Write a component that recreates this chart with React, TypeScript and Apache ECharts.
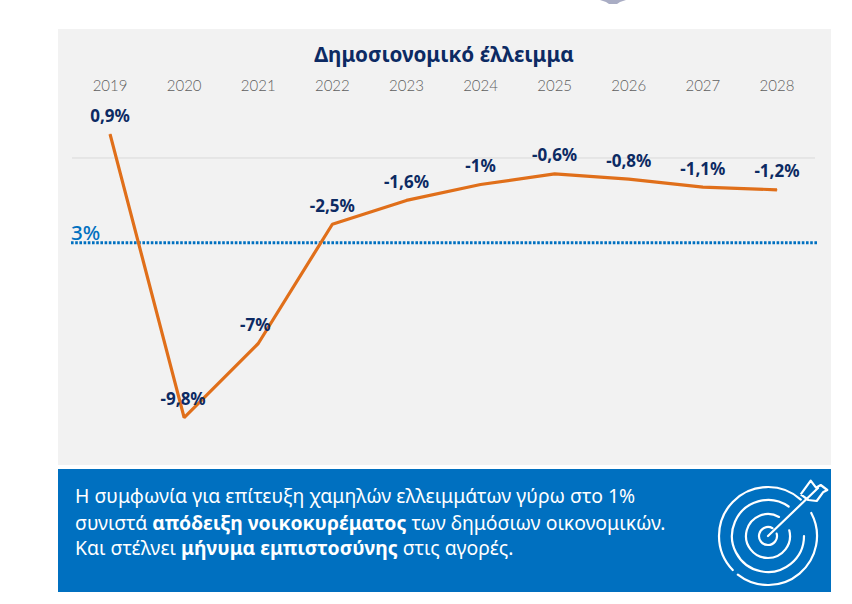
import React, { useEffect, useRef } from "react";
import * as echarts from "echarts";

const years = ["2019", "2020", "2021", "2022", "2023", "2024", "2025", "2026", "2027", "2028"];
const deficit = [0.9, -9.8, -7, -2.5, -1.6, -1, -0.6, -0.8, -1.1, -1.2];
const valueLabels = ["0,9%", "-9,8%", "-7%", "-2,5%", "-1,6%", "-1%", "-0,6%", "-0,8%", "-1,1%", "-1,2%"];
const labelShiftX = [0, -1, -3, 0, 0, 0, 0, 0, 0, 0];
const zeroLine = [0];
const limitLine = [-3.2];
const limitLabel = "3%";
const chartTitle = "Δημοσιονομικό έλλειμμα";
const noteLines = [
  [["t", "Η συμφωνία για επίτευξη χαμηλών ελλειμμάτων γύρω στο 1%"]],
  [["t", "συνιστά "], ["b", "απόδειξη νοικοκυρέματος"], ["t", " των δημόσιων οικονομικών."]],
  [["t", "Και στέλνει "], ["b", "μήνυμα εμπιστοσύνης"], ["t", " στις αγορές."]],
];

const NAVY = "#0c2a63";
const BLUE = "#0070c0";
const ORANGE = "#e06f1a";
const FONT = "'Noto Sans', sans-serif";

function ringArc(cx: number, cy: number, r: number, startDeg: number, endDeg: number) {
  return {
    type: "arc",
    z: 5,
    shape: { cx, cy, r, startAngle: (startDeg * Math.PI) / 180, endAngle: (endDeg * Math.PI) / 180, clockwise: true },
    style: { stroke: "#fff", fill: "none", lineWidth: 2.2, lineCap: "round" },
  };
}

export default function App() {
  const ref = useRef<HTMLDivElement>(null);
  useEffect(() => {
    const chart = echarts.init(ref.current!, undefined, { renderer: "svg" });
    const cx = 768;
    const cy = 536;
    const option = {
      animation: false,
      backgroundColor: "#ffffff",
      title: {
        text: chartTitle,
        left: 439,
        top: 38,
        textAlign: "center",
        textStyle: { color: NAVY, fontFamily: FONT, fontWeight: "bold", fontSize: 20.7 },
      },
      grid: { left: 73, width: 741, top: 105, height: 344.5 },
      xAxis: {
        type: "category",
        position: "top",
        data: years,
        axisLine: { show: false },
        axisTick: { show: false },
        axisLabel: { color: "#5f5f5f", fontFamily: "Lato, sans-serif", fontWeight: 300, fontSize: 15, margin: 13 },
      },
      yAxis: { type: "value", min: -11, max: 2, show: false, splitLine: { show: false } },
      graphic: [
        { type: "rect", z: -10, shape: { x: 58, y: 29, width: 773, height: 436 }, style: { fill: "#f2f2f2" } },
        { type: "rect", z: -10, shape: { x: 58, y: 469, width: 773, height: 123 }, style: { fill: BLUE } },
        {
          type: "polygon",
          z: -10,
          shape: { points: [[600, 0], [626, 0], [620, 2], [617, 4], [609, 4], [606, 2]] },
          style: { fill: "#a9adc4" },
        },
        ...noteLines.map((parts, i) => ({
          type: "text",
          z: 5,
          x: 75,
          y: [495, 522, 547][i],
          style: {
            text: parts.map(([k, s]) => `{${k}|${s}}`).join(""),
            verticalAlign: "middle",
            rich: {
              t: { fill: "#ffffff", fontFamily: FONT, fontSize: 19.4 },
              b: { fill: "#ffffff", fontFamily: FONT, fontSize: 19.4, fontWeight: "bold" },
            },
          },
        })),
        ringArc(cx, cy, 49, -28, 128),
        ringArc(cx, cy, 49, 136, 312),
        ringArc(cx, cy, 36, 0, 305),
        ringArc(cx, cy, 22, -15, 300),
        ringArc(cx, cy, 9, -15, 300),
        {
          type: "line",
          z: 5,
          shape: { x1: cx, y1: cy, x2: 818, y2: 488 },
          style: { stroke: "#fff", lineWidth: 2.2, lineCap: "round" },
        },
        {
          type: "polyline",
          z: 5,
          shape: {
            points: [[800.7, 494.3], [810.7, 480.7], [816, 487.7], [820.7, 485], [827.3, 490], [823, 492.3], [816.7, 501], [808.3, 500], [800.7, 494.3]],
          },
          style: { stroke: "#fff", fill: "none", lineWidth: 2.2, lineJoin: "round" },
        },
      ],
      series: [
        {
          type: "custom",
          coordinateSystem: "cartesian2d",
          silent: true,
          clip: false,
          z: 1,
          data: zeroLine.map((v) => [0, v]),
          renderItem: (params: any, api: any) => {
            const y = api.coord([0, api.value(1)])[1];
            const cs = params.coordSys;
            return {
              type: "line",
              shape: { x1: cs.x - 1, y1: y, x2: cs.x + cs.width + 1, y2: y },
              style: { stroke: "#d9d9d9", lineWidth: 1 },
            };
          },
        },
        {
          type: "custom",
          coordinateSystem: "cartesian2d",
          silent: true,
          clip: false,
          z: 2,
          data: limitLine.map((v) => [0, v]),
          renderItem: (params: any, api: any) => {
            const y = api.coord([0, api.value(1)])[1];
            const cs = params.coordSys;
            return {
              type: "group",
              children: [
                {
                  type: "line",
                  shape: { x1: cs.x - 2, y1: y, x2: cs.x + cs.width + 4, y2: y },
                  style: { stroke: BLUE, lineWidth: 3, lineDash: [2.6, 1.6] },
                },
                {
                  type: "text",
                  x: cs.x - 2,
                  y: y - 11,
                  style: {
                    text: limitLabel,
                    fill: BLUE,
                    fontFamily: FONT,
                    fontSize: 20.5,
                    fontWeight: 500,
                    textVerticalAlign: "middle",
                  },
                },
              ],
            };
          },
        },
        {
          type: "line",
          z: 3,
          data: deficit.map((v, i) => ({
            value: v,
            label: { offset: [labelShiftX[i], 0], formatter: () => valueLabels[i] },
          })),
          symbol: "circle",
          symbolSize: 1,
          itemStyle: { color: ORANGE },
          lineStyle: { color: ORANGE, width: 3.2 },
          label: {
            show: true,
            position: "top",
            distance: 10,
            color: NAVY,
            fontFamily: FONT,
            fontWeight: "bold",
            fontSize: 17,
          },
        },
      ],
    };
    chart.setOption(option as any);
    return () => chart.dispose();
  }, []);
  return <div ref={ref} style={{ position: "absolute", left: 0, top: 0, width: 852, height: 604 }} />;
}
